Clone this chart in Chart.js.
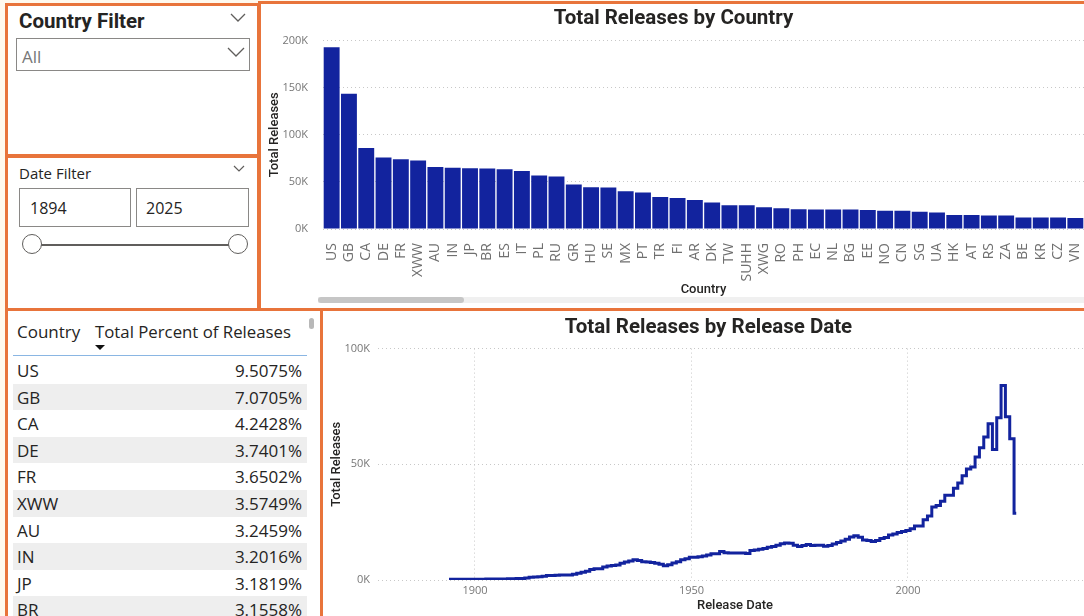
<!DOCTYPE html>
<html>
<head>
<meta charset="utf-8">
<script src="https://cdn.jsdelivr.net/npm/chart.js@4.4.1/dist/chart.umd.min.js"></script>
<style>
  body { margin: 0; width: 1084px; height: 616px; overflow: hidden; background: #FFF9EE; position: relative; font-family: 'Open Sans', sans-serif; color: #252423; }
  .panel { position: absolute; box-sizing: border-box; border: 3px solid #E8743B; background: #fff; }
  .abs { position: absolute; }
  .box { position: absolute; box-sizing: border-box; border: 1px solid #8a8886; background: #fff; }
  .chart { position: absolute; }
  .row { position: absolute; left: 13px; width: 294px; height: 27px; }
  .row span { position: absolute; top: 0; line-height: 27px; font-size: 17px; }
</style>
</head>
<body>
<div class="panel" style="left:5px;top:3px;width:255px;height:154px;"></div>
<div class="panel" style="left:5px;top:155px;width:255px;height:156px;"></div>
<div class="panel" style="left:258px;top:1px;width:840px;height:311px;"></div>
<div class="panel" style="left:5px;top:308px;width:318px;height:320px;"></div>
<div class="panel" style="left:320px;top:308px;width:780px;height:320px;"></div>

<!-- country filter -->
<div class="abs" style="left:19px;top:9px;font-family:Roboto;font-weight:bold;font-size:20.5px;">Country Filter</div>
<svg class="abs" style="left:229px;top:12px" width="20" height="12"><polyline points="2,2 9,9 16,2" fill="none" stroke="#605e5c" stroke-width="1.3"/></svg>
<div class="box" style="left:16px;top:38px;width:234px;height:33px;"></div>
<div class="abs" style="left:22px;top:45px;font-size:17px;color:#777;">All</div>
<svg class="abs" style="left:226px;top:46px" width="22" height="14"><polyline points="2,2 10,10 18,2" fill="none" stroke="#605e5c" stroke-width="1.3"/></svg>

<!-- date filter -->
<div class="abs" style="left:19px;top:163px;font-size:15px;">Date Filter</div>
<svg class="abs" style="left:232px;top:164px" width="16" height="10"><polyline points="2,2 7,7 12,2" fill="none" stroke="#605e5c" stroke-width="1.2"/></svg>
<div class="box" style="left:19px;top:188px;width:112px;height:39px;"></div>
<div class="box" style="left:136px;top:188px;width:113px;height:39px;"></div>
<div class="abs" style="left:30px;top:197px;font-size:16px;">1894</div>
<div class="abs" style="left:146px;top:197px;font-size:16px;">2025</div>
<div class="abs" style="left:33px;top:244px;width:206px;height:2px;background:#605e5c;"></div>
<div class="abs" style="left:22px;top:234px;width:18px;height:18px;border:1.5px solid #605e5c;border-radius:50%;background:#fff;"></div>
<div class="abs" style="left:228px;top:234px;width:18px;height:18px;border:1.5px solid #605e5c;border-radius:50%;background:#fff;"></div>

<!-- table -->
<div class="abs" style="left:17px;top:320px;font-size:17px;">Country</div>
<div class="abs" style="left:95px;top:320px;font-size:16.8px;">Total Percent of Releases</div>
<div class="abs" style="left:95px;top:345px;width:0;height:0;border-left:5px solid transparent;border-right:5px solid transparent;border-top:5px solid #111;"></div>
<div class="abs" style="left:13px;top:355px;width:294px;height:1px;background:#8AB6E3;"></div>
<div class="abs" style="left:309px;top:318px;width:5px;height:11px;border-radius:3px;background:#b8b8b8;"></div>
<div id="tableRows"></div>

<!-- bar chart -->
<div class="chart" style="left:263px;top:4px;width:840px;height:296px;"><canvas id="barChart"></canvas></div>
<div class="abs" style="left:318px;top:297px;width:766px;height:6px;background:#f0f0f0;"></div>
<div class="abs" style="left:318px;top:297px;width:146px;height:6px;border-radius:3px;background:#c6c6c6;"></div>

<!-- line chart -->
<div class="chart" style="left:325px;top:312px;width:776px;height:304px;"><canvas id="lineChart"></canvas></div>

<script>
const countries = ['US','GB','CA','DE','FR','XWW','AU','IN','JP','BR','ES','IT','PL','RU','GR','HU','SE','MX','PT','TR','FI',
  'AR','DK','TW','SUHH','XWG','RO','PH','EC','NL','BG','EE','NO','CN','SG','UA','HK','AT','RS','ZA','BE','KR','CZ','VN'];
const releases = [193000,143500,86100,75900,74100,72600,65900,65000,64600,64100,63500,61700,56800,55700,47200,44400,44000,40100,38700,34000,33000,
  30900,28000,25200,25200,23000,22000,20900,20600,20600,20600,20200,19500,19500,18400,17400,14900,14900,14200,14200,12100,12100,12100,11700];

const tableCountries = ['US','GB','CA','DE','FR','XWW','AU','IN','JP','BR'];
const tablePercents = ['9.5075%','7.0705%','4.2428%','3.7401%','3.6502%','3.5749%','3.2459%','3.2016%','3.1819%','3.1558%'];

// releases per year, 1894 .. 2025
const firstYear = 1894;
const releasesByYear = [
  300,300,300,300,300,300,
  350,350,350,400,400,400,450,450,500,550,
  600,700,900,1200,1300,1400,1600,1900,1900,2000,
  2200,2200,2200,2500,2900,3300,3800,4500,4900,4900,
  5600,6100,6300,6500,7200,7800,8200,8700,8400,7900,
  7800,7600,7200,6800,6200,6600,7400,7900,8700,9200,
  9800,9800,10100,10400,10800,11300,11300,12300,11800,11700,
  11700,11700,11700,11400,12700,13000,13300,13600,14200,14500,
  15000,15700,16000,15900,15000,14500,14900,15300,14900,15000,
  15000,14600,14900,15600,16200,16900,17600,18600,19100,18500,
  17300,17100,16600,17100,17900,18400,19400,19900,20500,21000,
  21400,22100,23300,23300,26000,27700,31500,32200,34000,36600,
  36600,39700,41900,45100,48000,48800,53200,57100,61800,67500,
  56400,70100,84100,70500,61000,28900
];
const yearTicks = [1900, 1950, 2000];
const countTicks = [0, 50000, 100000];

const blue = '#12239E';
const kFormat = v => (v / 1000) + 'K';
const tickFont = { family: 'Open Sans', size: 11 };
const axisTitleFont = { family: 'Roboto', size: 13, weight: 500 };
const chartTitleFont = { family: 'Roboto', size: 20.5, weight: 'bold' };

// table rows
const rowsEl = document.getElementById('tableRows');
tableCountries.forEach((c, i) => {
  const row = document.createElement('div');
  row.className = 'row';
  row.style.top = (357 + i * 26.6) + 'px';
  row.style.background = i % 2 ? '#eeeeee' : '#ffffff';
  const name = document.createElement('span');
  name.style.left = '4px';
  name.textContent = c;
  const pct = document.createElement('span');
  pct.style.right = '5px';
  pct.textContent = tablePercents[i];
  row.appendChild(name);
  row.appendChild(pct);
  rowsEl.appendChild(row);
});

new Chart(document.getElementById('barChart'), {
  type: 'bar',
  data: {
    labels: countries,
    datasets: [{ data: releases, backgroundColor: blue, barPercentage: 0.92, categoryPercentage: 1 }]
  },
  options: {
    animation: false,
    responsive: true,
    maintainAspectRatio: false,
    layout: { padding: { left: 0, right: 19, top: 0, bottom: 0 } },
    plugins: {
      legend: { display: false },
      tooltip: { enabled: false },
      title: { display: true, text: 'Total Releases by Country', color: '#252423', font: chartTitleFont, padding: { top: 3, bottom: 9 } }
    },
    scales: {
      x: {
        grid: { display: false },
        border: { display: false },
        ticks: { autoSkip: false, minRotation: 90, maxRotation: 90, padding: 6, color: '#707070', font: { family: 'Open Sans', size: 14 } },
        title: { display: true, text: 'Country', color: '#252423', font: axisTitleFont, padding: { top: 0, bottom: 2 } },
        afterFit: s => { s.height = 71; }
      },
      y: {
        min: 0,
        max: 200000,
        ticks: { stepSize: 50000, callback: kFormat, padding: 15, color: '#777', font: tickFont },
        grid: { color: '#c8c8c8', drawTicks: false },
        border: { display: false, dash: [1, 3] },
        title: { display: true, text: 'Total Releases', color: '#252423', font: axisTitleFont, padding: 4 },
        afterFit: s => { s.width = 60; }
      }
    }
  }
});

new Chart(document.getElementById('lineChart'), {
  type: 'line',
  data: {
    datasets: [{
      data: releasesByYear.map((v, i) => ({ x: firstYear + i, y: v })),
      borderColor: blue,
      borderWidth: 3,
      pointRadius: 0,
      stepped: 'middle',
      fill: false
    }]
  },
  options: {
    animation: false,
    responsive: true,
    maintainAspectRatio: false,
    layout: { padding: { left: 0, right: 9, top: 0, bottom: 0 } },
    plugins: {
      legend: { display: false },
      tooltip: { enabled: false },
      title: { display: true, text: 'Total Releases by Release Date', color: '#252423', font: chartTitleFont, padding: { top: 4, bottom: 8 } }
    },
    scales: {
      x: {
        type: 'linear',
        min: 1877.6,
        max: 2042.5,
        afterBuildTicks: a => { a.ticks = yearTicks.map(v => ({ value: v })); },
        ticks: { callback: v => String(v), padding: 4, color: '#777', font: tickFont },
        grid: { color: '#c8c8c8', drawTicks: false },
        border: { display: false, dash: [1, 3] },
        title: { display: true, text: 'Release Date', color: '#252423', font: axisTitleFont, padding: { top: 0, bottom: 2 } },
        afterFit: s => { s.height = 36; }
      },
      y: {
        min: 0,
        max: 100000,
        afterBuildTicks: a => { a.ticks = countTicks.map(v => ({ value: v })); },
        ticks: { callback: kFormat, padding: 8, color: '#777', font: tickFont },
        grid: { color: '#c8c8c8', drawTicks: false },
        border: { display: false, dash: [1, 3] },
        title: { display: true, text: 'Total Releases', color: '#252423', font: axisTitleFont, padding: 4 },
        afterFit: s => { s.width = 53; }
      }
    }
  }
});
</script>
</body>
</html>
